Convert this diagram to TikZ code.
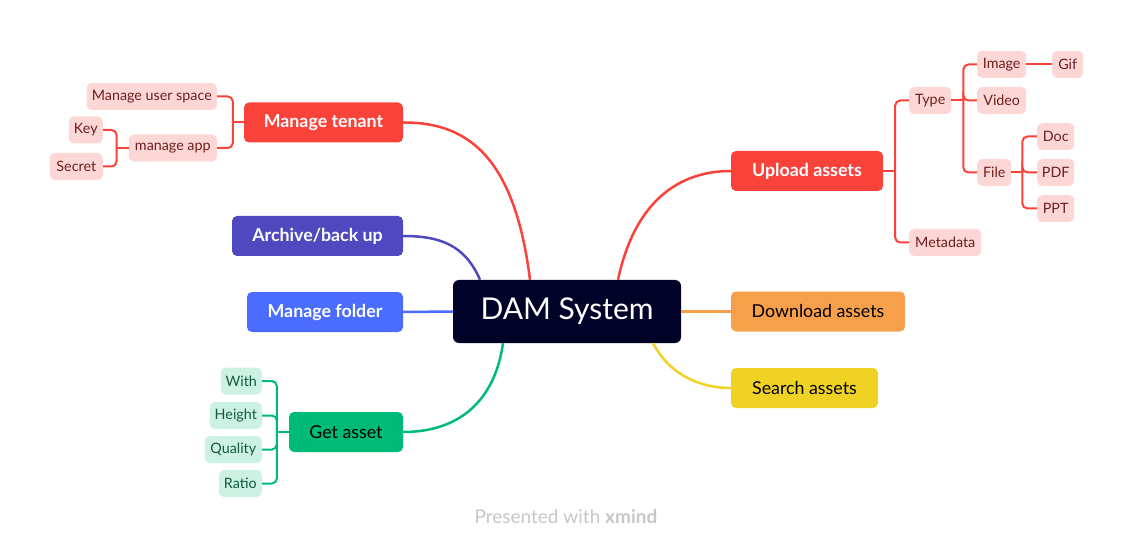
\documentclass[tikz,border=0pt]{standalone}
\usepackage{fontspec}
\setmainfont{Lato}
\usetikzlibrary{positioning,calc,backgrounds}
\definecolor{damnavy}{RGB}{0,2,40}
\definecolor{damred}{RGB}{249,66,58}
\definecolor{damindigo}{RGB}{80,72,190}
\definecolor{damblue}{RGB}{74,108,255}
\definecolor{damgreen}{RGB}{0,186,120}
\definecolor{damorange}{RGB}{247,160,76}
\definecolor{damyellow}{RGB}{240,210,36}
\definecolor{pinkfill}{RGB}{253,215,213}
\definecolor{pinktext}{RGB}{110,30,30}
\definecolor{mintfill}{RGB}{204,242,228}
\definecolor{minttext}{RGB}{20,90,60}

\begin{document}
\begin{tikzpicture}[x=1pt, y=-1pt,
    central/.style={rectangle, rounded corners=6pt, fill=damnavy, text=white, minimum width=228pt, minimum height=63pt, font=\fontsize{30}{32}\selectfont},
    topic/.style={rectangle, rounded corners=5pt, minimum height=40pt, inner xsep=4pt, font=\fontsize{17.8}{19}\selectfont},
    lighttopic/.style={topic, text=white, font=\fontsize{17.8}{19}\selectfont\bfseries},
    leaf/.style={rectangle, rounded corners=5pt, minimum height=27pt, inner xsep=2pt, font=\fontsize{14.3}{15}\selectfont},
    redleaf/.style={leaf, fill=pinkfill, text=pinktext},
    greenleaf/.style={leaf, fill=mintfill, text=minttext},
    branch/.style={line width=2.5pt},
    twig/.style={line width=2pt, rounded corners=5pt}
]
\useasboundingbox (0,0) rectangle (1133,548);

% Central topic
\node[central] (dam) at (567,311.5) {DAM System};

% Main topics
\node[lighttopic, fill=damred, minimum width=159] (tenant) at (323.5,122.5) {Manage tenant};
\node[lighttopic, fill=damindigo, minimum width=171] (archive) at (317.5,236) {Archive/back up};
\node[lighttopic, fill=damblue, minimum width=156] (folder) at (325,312) {Manage folder};
\node[topic, fill=damgreen, minimum width=114] (getasset) at (346,432) {Get asset};
\node[lighttopic, fill=damred, minimum width=152] (upload) at (807,171) {Upload assets};
\node[topic, fill=damorange, minimum width=174] (download) at (818,311.5) {Download assets};
\node[topic, fill=damyellow, minimum width=147] (search) at (804.5,388) {Search assets};

% Branches from the centre
\draw[branch, damred] ([xshift=-37]dam.north) .. controls (515,160) and (470,122) .. (tenant.east);
\draw[branch, damindigo] ([xshift=-87]dam.north) .. controls (465,245) and (440,236) .. (archive.east);
\draw[branch, damblue] (dam.west) -- (folder.east);
\draw[branch, damgreen] ([xshift=-64]dam.south) .. controls (495,400) and (460,432) .. (getasset.east);
\draw[branch, damred] ([xshift=51]dam.north) .. controls (635,200) and (680,171) .. (upload.west);
\draw[branch, damorange] (dam.east) -- (download.west);
\draw[branch, damyellow] ([xshift=86]dam.south) .. controls (670,375) and (700,388) .. (search.west);

% Manage tenant subtree
\node[redleaf, anchor=east, minimum width=130] (userspace) at (217,96.5) {Manage user space};
\node[redleaf, anchor=east, minimum width=88] (app) at (217,148) {manage app};
\node[redleaf, anchor=east, minimum width=34] (key) at (103,130) {Key};
\node[redleaf, anchor=east, minimum width=53] (secret) at (103,166.5) {Secret};
\coordinate (tenantj) at ([xshift=-11]tenant.west);
\coordinate (appj) at ([xshift=-12]app.west);
\draw[twig, damred] (tenant.west) -- (tenantj);
\draw[twig, damred] (tenantj) |- (userspace.east);
\draw[twig, damred] (tenantj) |- (app.east);
\draw[twig, damred] (app.west) -- (appj);
\draw[twig, damred] (appj) |- (key.east);
\draw[twig, damred] (appj) |- (secret.east);

% Upload assets subtree
\node[redleaf, anchor=west, minimum width=42] (type) at (909,100.5) {Type};
\node[redleaf, anchor=west, minimum width=72] (metadata) at (909,242.5) {Metadata};
\node[redleaf, anchor=west, minimum width=49] (image) at (977,64.5) {Image};
\node[redleaf, anchor=west, minimum width=49] (video) at (977,100.5) {Video};
\node[redleaf, anchor=west, minimum width=34] (file) at (977,172.5) {File};
\node[redleaf, anchor=west, minimum width=31] (gif) at (1052,64.5) {Gif};
\node[redleaf, anchor=west, minimum width=37] (doc) at (1037,136.5) {Doc};
\node[redleaf, anchor=west, minimum width=37] (pdf) at (1037,172.5) {PDF};
\node[redleaf, anchor=west, minimum width=37] (ppt) at (1037,208.5) {PPT};
\coordinate (uploadj) at ([xshift=12]upload.east);
\coordinate (typej) at ([xshift=12]type.east);
\coordinate (filej) at ([xshift=11]file.east);
\draw[twig, damred] (upload.east) -- (uploadj);
\draw[twig, damred] (uploadj) |- (type.west);
\draw[twig, damred] (uploadj) |- (metadata.west);
\draw[twig, damred] (type.east) -- (typej);
\draw[twig, damred] (typej) |- (image.west);
\draw[twig, damred] (typej) |- (video.west);
\draw[twig, damred] (typej) |- (file.west);
\draw[twig, damred] (image.east) -- (gif.west);
\draw[twig, damred] (file.east) -- (filej);
\draw[twig, damred] (filej) |- (doc.west);
\draw[twig, damred] (filej) |- (pdf.west);
\draw[twig, damred] (filej) |- (ppt.west);

% Get asset subtree
\node[greenleaf, anchor=east, minimum width=41] (with) at (262,381) {With};
\node[greenleaf, anchor=east, minimum width=52] (height) at (262,415.5) {Height};
\node[greenleaf, anchor=east, minimum width=57] (quality) at (262,449.5) {Quality};
\node[greenleaf, anchor=east, minimum width=43] (ratio) at (262,483.5) {Ratio};
\coordinate (getj) at ([xshift=-12]getasset.west);
\draw[twig, damgreen] (getasset.west) -- (getj);
\foreach \n in {with,height,quality,ratio}
  \draw[twig, damgreen] (getj) |- (\n.east);

% Footer
\node[text=black!22, font=\fontsize{19}{21}\selectfont] (footer) at (566,517) {Presented with \textbf{xmind}};
\end{tikzpicture}
\end{document}
